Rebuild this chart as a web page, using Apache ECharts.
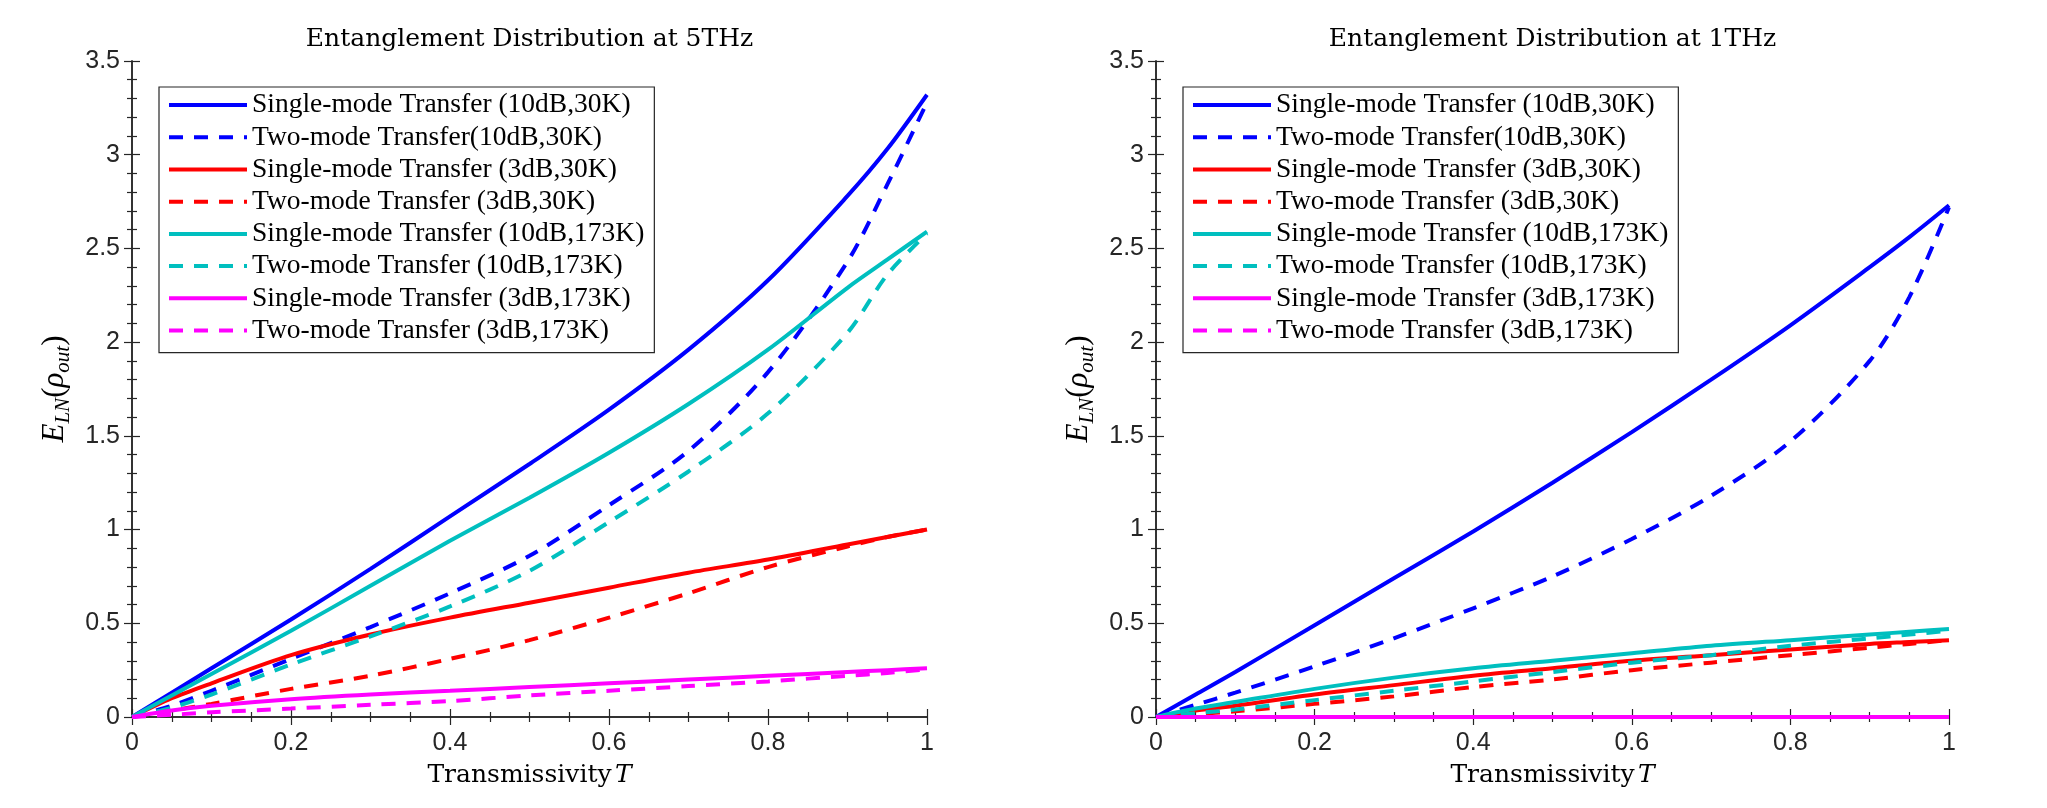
<!DOCTYPE html>
<html>
<head>
<meta charset="utf-8">
<script src="https://cdn.jsdelivr.net/npm/echarts@6/dist/echarts.min.js"></script>
<style>
  html, body { margin: 0; padding: 0; background: #fff; }
  #chart { width: 2047px; height: 808px; }
</style>
</head>
<body>
<div id="chart"></div>
<script>
// transmissivity sample points (shared by every curve)
const T = [0, 0.05, 0.1, 0.2, 0.3, 0.4, 0.5, 0.6, 0.7, 0.8, 0.9, 0.95, 1];

const names = [
  'Single-mode Transfer (10dB,30K)',
  'Two-mode Transfer(10dB,30K)',
  'Single-mode Transfer (3dB,30K)',
  'Two-mode Transfer (3dB,30K)',
  'Single-mode Transfer (10dB,173K)',
  'Two-mode Transfer (10dB,173K)',
  'Single-mode Transfer (3dB,173K)',
  'Two-mode Transfer (3dB,173K)'
];

// 5 THz panel
const single10dB30K_5 = [0, 0.13, 0.26, 0.52, 0.79, 1.07, 1.35, 1.64, 1.96, 2.33, 2.78, 3.03, 3.32];
const two10dB30K_5    = [0, 0.06, 0.14, 0.31, 0.48, 0.66, 0.86, 1.13, 1.42, 1.84, 2.43, 2.84, 3.28];
const single3dB30K_5  = [0, 0.10, 0.18, 0.33, 0.44, 0.53, 0.61, 0.69, 0.77, 0.84, 0.92, 0.96, 1.0];
const two3dB30K_5     = [0, 0.035, 0.07, 0.15, 0.22, 0.31, 0.41, 0.53, 0.66, 0.80, 0.91, 0.96, 1.0];
const single10dB173K_5 = [0, 0.115, 0.23, 0.46, 0.70, 0.94, 1.17, 1.41, 1.67, 1.96, 2.29, 2.44, 2.59];
const two10dB173K_5    = [0, 0.05, 0.12, 0.28, 0.43, 0.59, 0.78, 1.04, 1.31, 1.62, 2.05, 2.36, 2.58];
const single3dB173K_5  = [0, 0.035, 0.06, 0.095, 0.12, 0.14, 0.16, 0.18, 0.20, 0.22, 0.24, 0.25, 0.26];
const two3dB173K_5     = [0, 0.012, 0.025, 0.045, 0.065, 0.085, 0.115, 0.14, 0.165, 0.19, 0.22, 0.235, 0.255];

// 1 THz panel
const single10dB30K_1 = [0, 0.12, 0.24, 0.49, 0.74, 0.99, 1.25, 1.52, 1.80, 2.09, 2.40, 2.56, 2.73];
const two10dB30K_1    = [0, 0.065, 0.13, 0.27, 0.42, 0.58, 0.75, 0.95, 1.18, 1.47, 1.90, 2.24, 2.72];
const single3dB30K_1  = [0, 0.035, 0.06, 0.12, 0.17, 0.22, 0.26, 0.30, 0.33, 0.36, 0.39, 0.40, 0.41];
const two3dB30K_1     = [0, 0.015, 0.03, 0.07, 0.11, 0.16, 0.20, 0.25, 0.29, 0.33, 0.37, 0.39, 0.41];
const single10dB173K_1 = [0, 0.045, 0.08, 0.15, 0.21, 0.26, 0.30, 0.34, 0.38, 0.41, 0.44, 0.455, 0.47];
const two10dB173K_1    = [0, 0.02, 0.04, 0.09, 0.14, 0.19, 0.24, 0.29, 0.33, 0.38, 0.42, 0.44, 0.46];
const single3dB173K_1  = [0, 0, 0, 0, 0, 0, 0, 0, 0, 0, 0, 0, 0];
const two3dB173K_1     = [0, 0, 0, 0, 0, 0, 0, 0, 0, 0, 0, 0, 0];

const xTicks = { min: 0, max: 1, interval: 0.2 };
const yTicks = { min: 0, max: 3.5, interval: 0.5 };

const panels = [
  {
    title: 'Entanglement Distribution at 5THz',
    curves: [single10dB30K_5, two10dB30K_5, single3dB30K_5, two3dB30K_5,
             single10dB173K_5, two10dB173K_5, single3dB173K_5, two3dB173K_5]
  },
  {
    title: 'Entanglement Distribution at 1THz',
    curves: [single10dB30K_1, two10dB30K_1, single3dB30K_1, two3dB30K_1,
             single10dB173K_1, two10dB173K_1, single3dB173K_1, two3dB173K_1]
  }
];

const colors = ['#0000ff', '#0000ff', '#ff0000', '#ff0000', '#00bfbf', '#00bfbf', '#ff00ff', '#ff00ff'];
const AXIS = '#262626';
const SERIF = '"Liberation Serif", serif';
const WIDE_SERIF = '"DejaVu Serif", serif';
const SANS = '"Liberation Sans", Arial, sans-serif';

const grids = [
  { left: 132, right: 1120, top: 61, bottom: 91 },
  { left: 1156, right: 98, top: 61, bottom: 91 }
];

function axisBase(extra) {
  return Object.assign({
    type: 'value',
    axisLine: { show: true, lineStyle: { color: AXIS, width: 1.5 } },
    axisTick: { show: true, inside: true, length: 8, lineStyle: { color: AXIS, width: 1.2 } },
    splitLine: { show: false },
    minorSplitLine: { show: false }
  }, extra);
}

const xMinor = { show: true, splitNumber: 4, length: 5, lineStyle: { color: AXIS, width: 1.2 } };
const yMinor = { show: true, splitNumber: 5, length: 5, lineStyle: { color: AXIS, width: 1.2 } };

const xAxis = [];
const yAxis = [];
grids.forEach((g, i) => {
  xAxis.push(axisBase({
    gridIndex: i, position: 'bottom', ...xTicks,
    minorTick: xMinor,
    axisLabel: { color: AXIS, fontFamily: SANS, fontSize: 25, margin: 14 },
    name: '{n|Transmissivity} {i|T}',
    nameLocation: 'middle',
    nameGap: 46,
    nameTextStyle: {
      rich: {
        n: { fontFamily: WIDE_SERIF, fontSize: 25, color: '#000' },
        i: { fontFamily: WIDE_SERIF, fontSize: 25, fontStyle: 'italic', color: '#000' }
      }
    }
  }));
  xAxis.push(axisBase({
    gridIndex: i, position: 'top', ...xTicks,
    minorTick: xMinor,
    axisLabel: { show: false }
  }));
  yAxis.push(axisBase({
    gridIndex: i, position: 'left', ...yTicks,
    minorTick: yMinor,
    axisLabel: { color: AXIS, fontFamily: SANS, fontSize: 25, margin: 12 },
    name: '{i|E}{s|LN}{n|(}{i|ρ}{s|out}{n|)}',
    nameLocation: 'middle',
    nameGap: 58,
    nameTextStyle: {
      rich: {
        i: { fontFamily: SERIF, fontSize: 31, fontStyle: 'italic', color: '#000', lineHeight: 38 },
        n: { fontFamily: SERIF, fontSize: 31, color: '#000', lineHeight: 38 },
        s: { fontFamily: SERIF, fontSize: 21, fontStyle: 'italic', color: '#000', lineHeight: 24, verticalAlign: 'bottom' }
      }
    }
  }));
  yAxis.push(axisBase({
    gridIndex: i, position: 'right', ...yTicks,
    minorTick: yMinor,
    axisLabel: { show: false }
  }));
});

const series = [];
panels.forEach((p, pi) => {
  p.curves.forEach((vals, ci) => {
    series.push({
      name: names[ci],
      type: 'line',
      xAxisIndex: pi * 2,
      yAxisIndex: pi * 2,
      data: T.map((t, k) => [t, vals[k]]),
      smooth: 0.3,
      symbol: 'none',
      lineStyle: {
        color: colors[ci],
        width: 4,
        type: ci % 2 === 1 ? [14, 11] : 'solid'
      },
      itemStyle: { color: colors[ci] },
      emphasis: { disabled: true }
    });
  });
});

const legendBase = {
  orient: 'vertical',
  top: 87,
  data: names,
  itemWidth: 78,
  itemHeight: 14,
  itemGap: 0,
  padding: [2, 10, 6, 8],
  borderColor: AXIS,
  borderWidth: 1.2,
  backgroundColor: '#fff',
  itemStyle: { opacity: 0 },
  lineStyle: { width: 4 },
  textStyle: { fontFamily: SERIF, fontSize: 27.5, color: '#000', lineHeight: 32.2 },
  selectedMode: false
};

const chart = echarts.init(document.getElementById('chart'), null, { renderer: 'canvas' });
chart.setOption({
  animation: false,
  color: colors,
  title: panels.map((p, i) => ({
    text: p.title,
    left: i === 0 ? 529.5 : 1552.5,
    top: 27,
    padding: 0,
    textAlign: 'center',
    textStyle: { fontFamily: WIDE_SERIF, fontSize: 25, fontWeight: 'normal', color: '#000' }
  })),
  legend: [
    Object.assign({ left: 159 }, legendBase),
    Object.assign({ left: 1183 }, legendBase)
  ],
  grid: grids,
  xAxis: xAxis,
  yAxis: yAxis,
  series: series
});
window.addEventListener('resize', () => chart.resize());
</script>
</body>
</html>
